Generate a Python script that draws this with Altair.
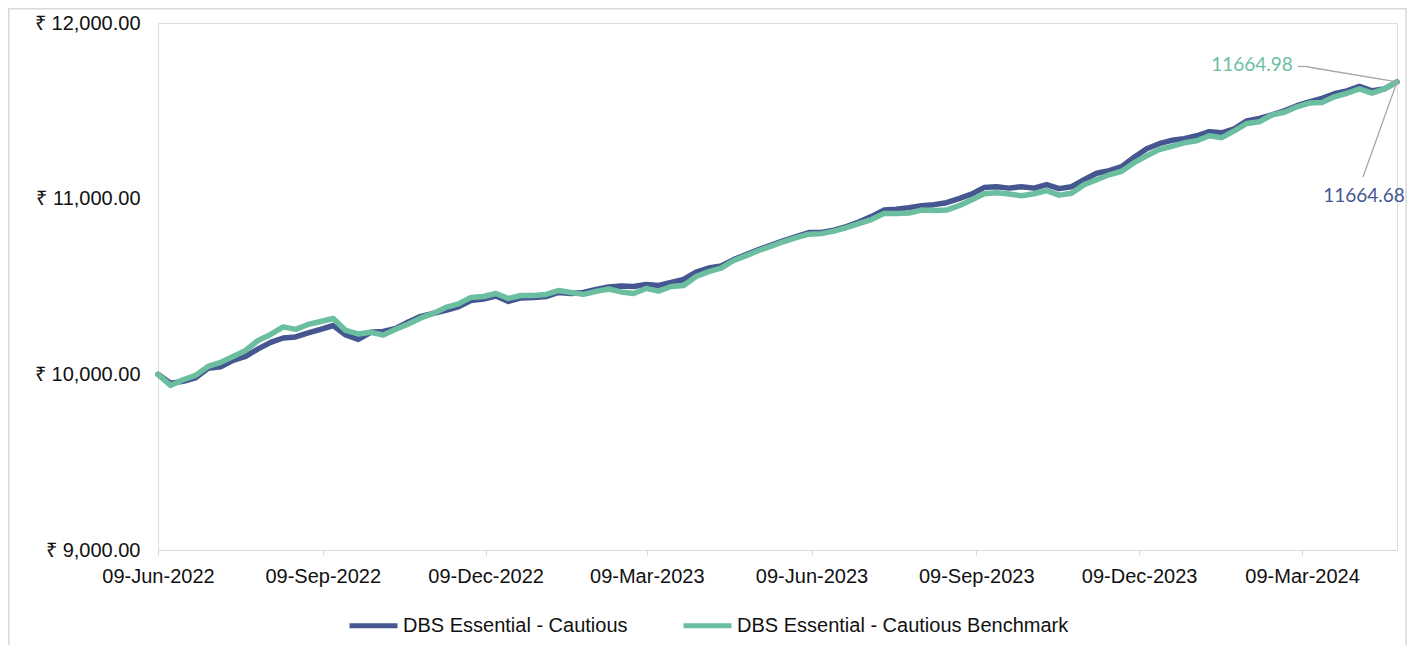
import altair as alt
import pandas as pd

fund_name = "DBS Essential - Cautious"
bench_name = "DBS Essential - Cautious Benchmark"

start_date = "2022-06-09"
end_date = "2024-05-01"
n_points = 100

fund_values = [10000, 9949, 9960, 9980, 10034, 10043, 10080, 10102, 10145, 10182,
               10207, 10213, 10236, 10256, 10278, 10224, 10199, 10239, 10244, 10261,
               10298, 10330, 10347, 10364, 10384, 10420, 10429, 10446, 10415, 10435,
               10438, 10443, 10466, 10460, 10466, 10483, 10497, 10503, 10500, 10511,
               10506, 10523, 10540, 10582, 10605, 10617, 10653, 10682, 10710, 10736,
               10761, 10784, 10807, 10807, 10821, 10841, 10867, 10898, 10935, 10940,
               10949, 10960, 10966, 10977, 11000, 11026, 11063, 11068, 11060, 11068,
               11060, 11080, 11057, 11068, 11108, 11145, 11159, 11182, 11236, 11284,
               11313, 11332, 11341, 11358, 11381, 11375, 11398, 11443, 11457, 11477,
               11500, 11529, 11551, 11571, 11597, 11614, 11639, 11614, 11625, 11664.68]

bench_values = [10000, 9937, 9969, 9994, 10045, 10068, 10102, 10136, 10193, 10227,
                10270, 10256, 10284, 10301, 10318, 10250, 10230, 10239, 10224, 10256,
                10287, 10321, 10347, 10381, 10401, 10438, 10443, 10460, 10432, 10449,
                10449, 10455, 10477, 10466, 10455, 10472, 10486, 10469, 10460, 10489,
                10474, 10500, 10506, 10557, 10585, 10605, 10648, 10676, 10705, 10730,
                10756, 10778, 10798, 10801, 10815, 10835, 10858, 10881, 10915, 10915,
                10918, 10935, 10932, 10935, 10960, 10992, 11028, 11034, 11026, 11017,
                11028, 11046, 11020, 11031, 11080, 11108, 11136, 11156, 11205, 11244,
                11279, 11298, 11318, 11330, 11358, 11347, 11386, 11428, 11438, 11477,
                11492, 11523, 11544, 11548, 11580, 11600, 11625, 11601, 11625, 11664.98]

tick_dates = ["2022-06-09", "2022-09-09", "2022-12-09", "2023-03-09",
              "2023-06-09", "2023-09-09", "2023-12-09", "2024-03-09"]
y_ticks = [9000, 10000, 11000, 12000]

blue = "#465690"
green = "#6BBE9F"
grey = "#A6A6A6"
frame = "#D9D9D9"
font = "Liberation Sans"

dates = pd.date_range(start_date, end_date, periods=n_points).strftime("%Y-%m-%dT%H:%M:%S")
df = pd.concat([
    pd.DataFrame({"date": dates, "value": fund_values, "series": fund_name}),
    pd.DataFrame({"date": dates, "value": bench_values, "series": bench_name}),
])
last = df.groupby("series").tail(1)


def dt(s):
    y, m, d = (int(p) for p in s.split("-"))
    return alt.DateTime(year=y, month=m, date=d)


x_enc = alt.X("date:T",
              scale=alt.Scale(domain=[dt(start_date), dt(end_date)], nice=False),
              axis=alt.Axis(values=[dt(t) for t in tick_dates], format="%d-%b-%Y",
                            title=None, grid=False, domainColor=frame, tickColor=frame,
                            tickSize=5, labelPadding=11, labelFont=font, labelFontSize=20,
                            labelColor="#111111", labelFlush=False, labelOverlap=False))
y_enc = alt.Y("value:Q",
              scale=alt.Scale(domain=[9000, 12000], nice=False, zero=False),
              axis=alt.Axis(values=y_ticks, labelExpr="'₹ ' + format(datum.value, ',.2f')",
                            title=None, grid=False, domain=False, ticks=False, tickSize=0,
                            labelPadding=18, labelFont=font, labelFontSize=20,
                            labelColor="#111111"))
color_enc = alt.Color("series:N",
                      scale=alt.Scale(domain=[fund_name, bench_name], range=[blue, green]),
                      legend=alt.Legend(title=None, orient="none", legendX=189, legendY=576,
                                        direction="horizontal", symbolType="stroke",
                                        symbolSize=2304, symbolStrokeWidth=5, labelOffset=3,
                                        columnPadding=45, labelFont=font, labelFontSize=20,
                                        labelColor="#111111", labelLimit=1000))

base = alt.Chart(df)
fund_line = base.transform_filter(alt.datum.series == fund_name).mark_line(
    strokeWidth=5.5, strokeJoin="round", strokeCap="round").encode(x=x_enc, y=y_enc, color=color_enc)
bench_line = base.transform_filter(alt.datum.series == bench_name).mark_line(
    strokeWidth=5.5, strokeJoin="round", strokeCap="round").encode(x=x_enc, y=y_enc, color=color_enc)

last_chart = alt.Chart(last)
bench_last = last_chart.transform_filter(alt.datum.series == bench_name)
fund_last = last_chart.transform_filter(alt.datum.series == fund_name)

bench_label = bench_last.mark_text(font="Lato", fontSize=19, color=green, dx=-145, dy=-17,
                                   align="center", baseline="middle").encode(
    x="date:T", y="value:Q", text=alt.Text("value:Q", format=".2f"))
fund_label = fund_last.mark_text(font="Lato", fontSize=19, color=blue, dx=-33, dy=114,
                                 align="center", baseline="middle").encode(
    x="date:T", y="value:Q", text=alt.Text("value:Q", format=".2f"))

bench_leader = bench_last.mark_rule(color=grey, strokeWidth=1.3).encode(
    x="date:T", y="value:Q", x2=alt.value(1150), y2=alt.value(44))
bench_leader_h = bench_last.mark_rule(color=grey, strokeWidth=1.3).encode(
    x=alt.value(1140), x2=alt.value(1150), y=alt.value(43.5))
fund_leader = fund_last.mark_rule(color=grey, strokeWidth=1.3).encode(
    x="date:T", y="value:Q", x2=alt.value(1205), y2=alt.value(154))

frame_src = alt.Chart(pd.DataFrame({"k": [0]}))
frame_left = frame_src.mark_rule(color=frame, strokeWidth=1.5).encode(
    x=alt.value(-149.2), y=alt.value(-14.5), y2=alt.value(640))
frame_right = frame_src.mark_rule(color=frame, strokeWidth=1.5).encode(
    x=alt.value(1248), y=alt.value(-14.5), y2=alt.value(640))
frame_top = frame_src.mark_rule(color=frame, strokeWidth=1.5).encode(
    x=alt.value(-150), x2=alt.value(1249), y=alt.value(-14.2))

chart = alt.layer(
    frame_left, frame_right, frame_top,
    fund_line, bench_line,
    bench_leader_h, bench_leader, fund_leader,
    bench_label, fund_label,
).properties(
    width=1239, height=527,
    autosize=alt.AutoSizeParams(type="none"),
    padding={"left": 150, "top": 15, "right": 11, "bottom": 95},
).configure_view(stroke=None).configure(background="white")

chart.save("out.html", embed_options={"renderer": "svg", "actions": False})
